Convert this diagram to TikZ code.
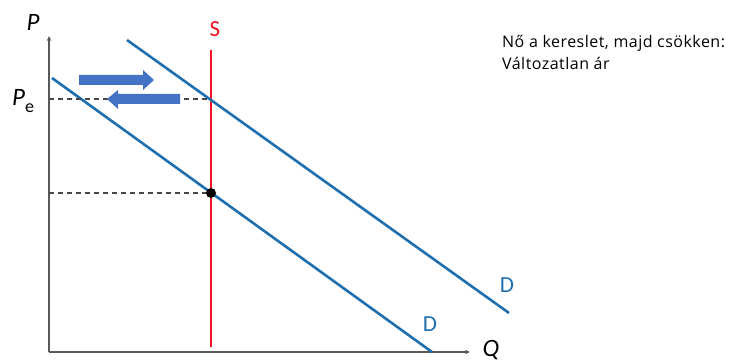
\documentclass[tikz,border=0pt]{standalone}
\usepackage{fontspec}
\setmainfont{Carlito}
\newfontfamily\boxfont[LetterSpace=3]{Open Sans}
\usetikzlibrary{arrows.meta}
\definecolor{dblue}{HTML}{1F6FAE}
\definecolor{ablue}{HTML}{4472C4}
\definecolor{sred}{HTML}{F0141E}
\definecolor{axgray}{HTML}{595959}
\tikzset{
  axis/.style={draw=axgray,line width=1.3pt,-{Stealth[length=5pt,width=4.5pt]}},
  dline/.style={draw=dblue,line width=2.6pt},
  sline/.style={draw=sred,line width=2.6pt},
  guide/.style={draw=axgray!80!black,line width=1.3pt,dash pattern=on 5pt off 4pt},
  lbl/.style={inner sep=0pt,font=\fontsize{25}{28}\selectfont\itshape},
  dlbl/.style={inner sep=0pt,text=dblue,font=\fontsize{23}{26}\selectfont},
  barrow/.style={fill=ablue,draw=none},
  boxtext/.style={inner sep=0pt,anchor=base west,font=\boxfont\fontsize{16}{22}\selectfont},
}
\begin{document}
\begin{tikzpicture}[x=1pt,y=-1pt]
\useasboundingbox (0,0) rectangle (742,363);
\coordinate (O) at (49,352);
\coordinate (Ptop) at (49,36);
\coordinate (Qend) at (470,352);
\draw[axis] (O) -- (Ptop);
\draw[axis] (O) -- (Qend);
\node[lbl] (P) at (33,22.5) {P};
\node[lbl] (Q) at (491,350) {Q};
\node[lbl,anchor=base west] (Pe) at (12,106) {P\raisebox{-0.28em}{\fontsize{18}{18}\selectfont\upshape e}};
% supply
\coordinate (Stop) at (211,50);
\coordinate (Sbot) at (211,347);
\draw[sline] (Stop) -- (Sbot);
\node[inner sep=0pt,text=sred,font=\fontsize{23}{26}\selectfont] (S) at (215,29.5) {S};
% demand lines
\coordinate (D1a) at (52,78);
\coordinate (D1b) at (432,352);
\coordinate (D2a) at (127,40);
\coordinate (D2b) at (509,313);
\draw[dline] (D1a) -- (D1b);
\draw[dline] (D2a) -- (D2b);
\node[dlbl] (DL) at (430,324) {D};
\node[dlbl] (DU) at (507,285.5) {D};
% guides
\coordinate (E1) at (211,99);
\coordinate (E0) at (211,193);
\coordinate (Y1) at (49,99);
\coordinate (Y0) at (49,193);
\draw[guide] (Y1) -- (E1);
\draw[guide] (Y0) -- (E0);
\fill (E0) circle (5pt);
% block arrows
\fill[barrow] (79,75) -- (143,75) -- (143,70) -- (154,80) -- (143,90) -- (143,85) -- (79,85) -- cycle;
\fill[barrow] (180,94) -- (118,94) -- (118,90) -- (107,99) -- (118,109) -- (118,104) -- (180,104) -- cycle;
% text
\node[boxtext] (t1) at (502,48) {Nő a kereslet, majd csökken:};
\node[boxtext] (t2) at (502,70) {Változatlan ár};
\end{tikzpicture}
\end{document}
